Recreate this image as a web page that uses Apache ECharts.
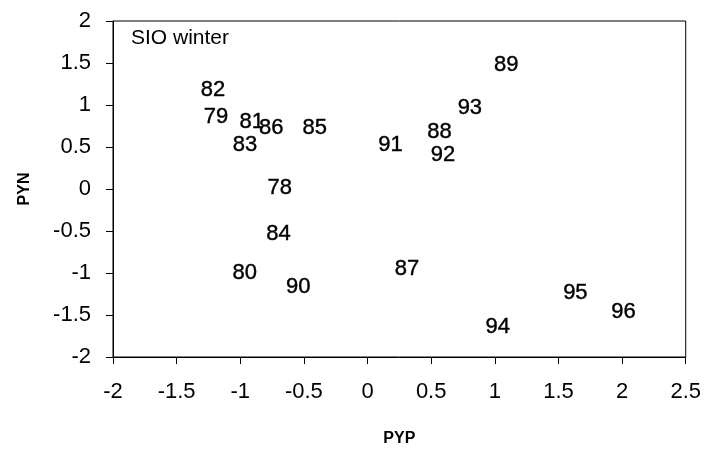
<!DOCTYPE html>
<html>
<head>
<meta charset="utf-8">
<script src="https://cdn.jsdelivr.net/npm/echarts@6/dist/echarts.min.js"></script>
<style>
  html, body { margin: 0; padding: 0; background: #fff; }
  #chart { width: 704px; height: 452px; }
</style>
</head>
<body>
<div id="chart"></div>
<script>
// Winter season index pairs, labelled by year (19xx)
const years = ['78', '79', '80', '81', '82', '83', '84', '85', '86', '87',
               '88', '89', '90', '91', '92', '93', '94', '95', '96'];
const pyp = [-0.69, -1.19, -0.965, -0.91, -1.214, -0.963, -0.70, -0.414, -0.757, 0.31,
             0.566, 1.089, -0.545, 0.18, 0.592, 0.804, 1.024, 1.633, 2.012];
const pyn = [0.01, 0.861, -1.004, 0.80, 1.179, 0.524, -0.539, 0.723, 0.723, -0.952,
             0.675, 1.48, -1.17, 0.524, 0.405, 0.968, -1.639, -1.236, -1.461];

const xTicks = { min: -2, max: 2.5, interval: 0.5 };
const yTicks = { min: -2, max: 2, interval: 0.5 };

const points = years.map((y, i) => [pyp[i], pyn[i], y]);

const fontFamily = '"Liberation Sans", Arial, sans-serif';

const chart = echarts.init(document.getElementById('chart'), null, { renderer: 'canvas' });

chart.setOption({
  backgroundColor: '#fff',
  animation: false,
  grid: {
    left: 113, right: 17, top: 21, bottom: 95,
    show: true, borderColor: '#000', borderWidth: 1, backgroundColor: 'transparent'
  },
  graphic: [{
    type: 'text',
    left: 131, top: 28,
    style: { text: 'SIO winter', font: '21px ' + fontFamily, fill: '#000' }
  }],
  xAxis: {
    type: 'value',
    min: xTicks.min, max: xTicks.max, interval: xTicks.interval,
    name: 'PYP',
    nameLocation: 'middle',
    nameGap: 74,
    nameTextStyle: { fontFamily, fontSize: 16, fontWeight: 'bold', color: '#000' },
    axisLine: { show: true, onZero: false, lineStyle: { color: '#000', width: 1 } },
    axisTick: { show: true, inside: false, length: 7, lineStyle: { color: '#000' } },
    axisLabel: { fontFamily, fontSize: 22, color: '#000', margin: 24 },
    splitLine: { show: false }
  },
  yAxis: {
    type: 'value',
    min: yTicks.min, max: yTicks.max, interval: yTicks.interval,
    name: 'PYN',
    nameLocation: 'middle',
    nameGap: 80,
    nameRotate: 90,
    nameTextStyle: { fontFamily, fontSize: 16, fontWeight: 'bold', color: '#000' },
    axisLine: { show: true, onZero: false, lineStyle: { color: '#000', width: 1 } },
    axisTick: { show: true, inside: false, length: 7, lineStyle: { color: '#000' } },
    axisLabel: { fontFamily, fontSize: 22, color: '#000', margin: 22 },
    splitLine: { show: false }
  },
  series: [{
    type: 'scatter',
    data: points,
    symbolSize: 1,
    itemStyle: { color: 'rgba(0,0,0,0)', opacity: 1 },
    label: {
      show: true,
      position: 'inside',
      formatter: p => p.value[2],
      fontFamily,
      fontSize: 22,
      color: '#000',
      textBorderColor: '#000',
      textBorderWidth: 0.4
    },
    emphasis: { disabled: true }
  }]
});
</script>
</body>
</html>
